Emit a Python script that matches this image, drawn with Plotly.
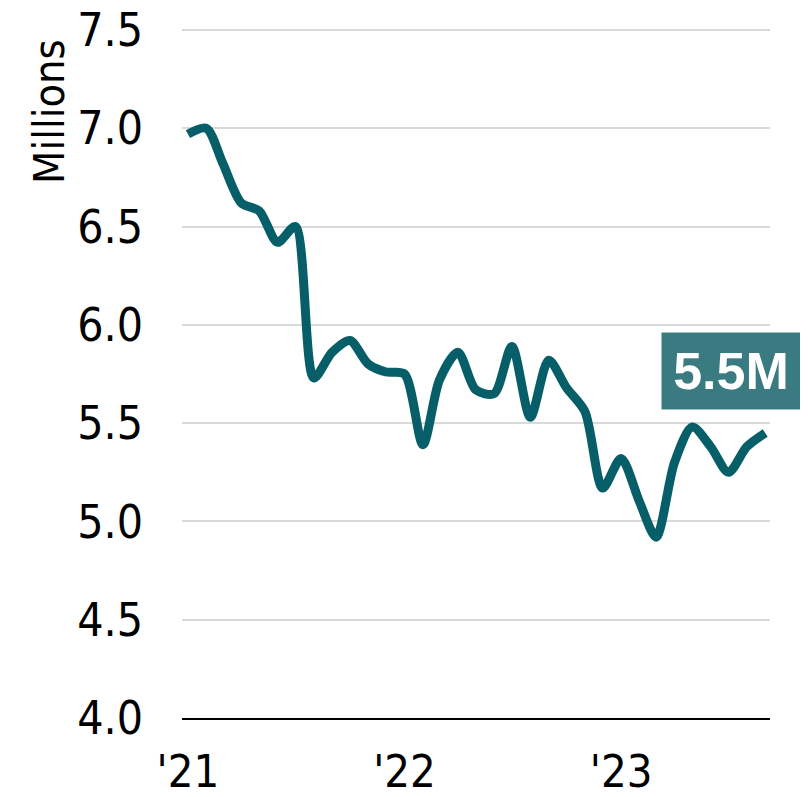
import plotly.graph_objects as go
import pandas as pd

# Monthly values, Jan 2021 - Sep 2023 (millions)
months = pd.date_range("2021-01-01", "2023-09-01", freq="MS")
values = [
    6.97, 7.00, 6.82, 6.62, 6.58, 6.42, 6.50, 5.73, 5.86, 5.92, 5.80, 5.76,
    5.75, 5.39, 5.72, 5.86, 5.67, 5.65, 5.89, 5.53, 5.82, 5.68, 5.56, 5.17,
    5.32, 5.10, 4.92, 5.30, 5.48, 5.38, 5.25, 5.38, 5.45,
]
tick_dates = ["2021-01-01", "2022-01-01", "2023-01-01"]
tick_labels = ["'21", "'22", "'23"]
y_ticks = [4.0, 4.5, 5.0, 5.5, 6.0, 6.5, 7.0, 7.5]

LINE = "#065e68"
BOX = "#3a7b82"
NARROW = "Liberation Sans Narrow, Arial Narrow, DejaVu Sans Condensed, sans-serif"

fig = go.Figure()
fig.add_trace(go.Scatter(
    x=months, y=values, mode="lines",
    line=dict(color=LINE, width=9, shape="spline", smoothing=0.8),
    hoverinfo="skip", showlegend=False,
))

fig.update_layout(
    width=808, height=797,
    margin=dict(l=174, r=46, t=20, b=87, autoexpand=False),
    paper_bgcolor="white", plot_bgcolor="white",
    font=dict(family=NARROW, size=46, color="black"),
    xaxis=dict(
        range=["2020-12-22", "2023-09-09"],
        tickvals=tick_dates, ticktext=tick_labels,
        showgrid=False, showline=True, linecolor="black", linewidth=2,
        ticks="", ticklabelstandoff=13, zeroline=False, automargin=False,
        ticklabeloverflow="allow",
        tickfont=dict(family=NARROW, size=45, color="black"),
    ),
    yaxis=dict(
        range=[4.0, 7.51], tickvals=y_ticks, tickformat=".1f",
        showgrid=True, gridcolor="#d9d9d9", gridwidth=2,
        showline=False, zeroline=False, ticks="", ticklabelstandoff=38,
        automargin=False, ticklabeloverflow="allow",
        tickfont=dict(family=NARROW, size=46, color="black"),
    ),
)

# Rotated axis caption
fig.add_annotation(
    text="Millions", xref="paper", yref="paper",
    x=(49 - 182) / 588, y=1 - (112 - 28) / 690,
    xanchor="center", yanchor="middle", textangle=-90, showarrow=False,
    font=dict(family=NARROW, size=43, color="black"),
)

# Latest value label
fig.add_annotation(
    text=f"{values[-1]:.1f}M", xref="paper", yref="paper",
    x=(731 - 182) / 588, y=1 - (371 - 28) / 690,
    xanchor="center", yanchor="middle", showarrow=False,
    width=138, height=76, bgcolor=BOX, borderpad=0,
    font=dict(family="Liberation Sans, Arial, sans-serif", size=52, color="white", weight="bold"),
)

fig.write_html("out.html")
